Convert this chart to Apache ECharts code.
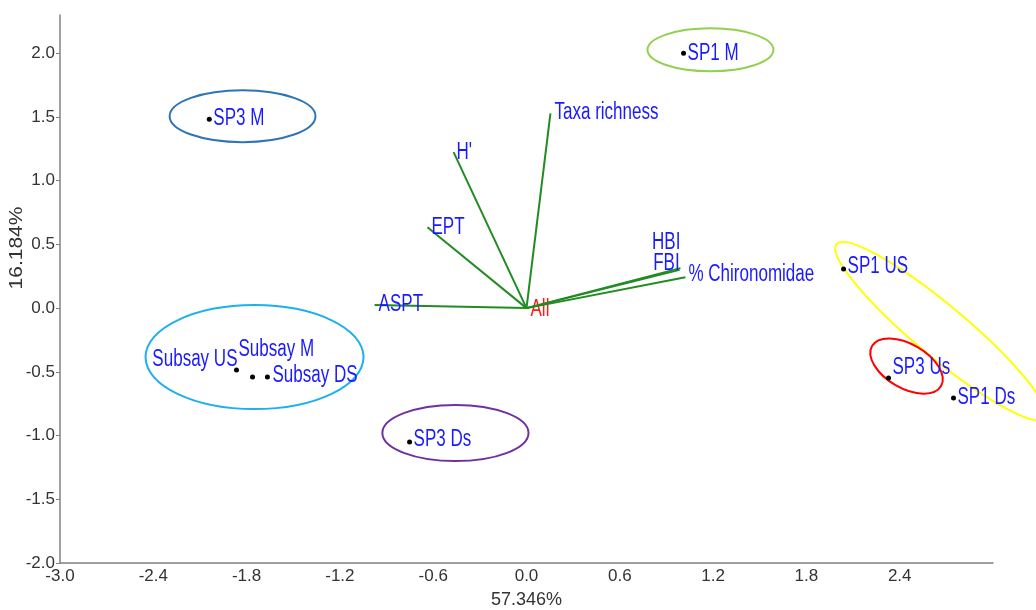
<!DOCTYPE html>
<html><head><meta charset="utf-8">
<script src="https://cdn.jsdelivr.net/npm/echarts@6/dist/echarts.min.js"></script>
<style>html,body{margin:0;padding:0;background:#fff}#c{width:1036px;height:610px}</style>
</head><body><div id="c"></div>
<script>
// ---- data ----
const siteNames = ['SP3 M', 'SP1 M', 'Subsay US', 'Subsay M', 'Subsay DS', 'SP3 Ds', 'SP1 US', 'SP3 Us', 'SP1 Ds'];
const siteX = [-2.040, 1.010, -1.865, -1.762, -1.666, -0.752, 2.039, 2.328, 2.746];
const siteY = [1.482, 2.000, -0.486, -0.541, -0.541, -1.051, 0.306, -0.549, -0.706];

const varNames = ['Taxa richness', "H'", 'EPT', 'ASPT', 'HBI', 'FBI', '% Chironomidae'];
const varX = [0.154, -0.469, -0.637, -0.977, 0.990, 0.985, 1.022];
const varY = [1.529, 1.224, 0.635, 0.024, 0.314, 0.300, 0.243];
const originLabel = 'All';

const xTicks = [-3.0, -2.4, -1.8, -1.2, -0.6, 0.0, 0.6, 1.2, 1.8, 2.4];
const yTicks = [-2.0, -1.5, -1.0, -0.5, 0.0, 0.5, 1.0, 1.5, 2.0];
const xTitle = '57.346%';
const yTitle = '16.184%';

// group ellipses: centre, end of major axis (data units), minor/major ratio
const ellCX = [-1.826, 1.183, -1.749, -0.457, 2.662, 2.444];
const ellCY = [1.506, 2.027, -0.384, -0.980, -0.180, -0.455];
const ellAX = [-1.357, 1.588, -1.048, 0.013, 3.330, 2.666];
const ellAY = [1.506, 2.027, -0.384, -0.980, -0.861, -0.612];
const ellRatio = [0.356, 0.341, 0.477, 0.384, 0.19, 0.55];

// ---- styles ----
const ellColors = ['#2e75b6', '#92d050', '#1cb0ec', '#7030a0', '#ffff00', '#ff0000'];
const LABEL_FONT = "'Liberation Sans', Arial, sans-serif";
const LABEL_SIZE = 23;
const LABEL_SCALE_X = 0.74;
const BLUE = '#1a1aff';
const siteLabelStyle = {
  'SP3 M': { dx: 4, dy: -1 },
  'SP1 M': { dx: 4, dy: 0 },
  'Subsay US': { dx: 1, dy: -10, align: 'right' },
  'Subsay M': { dx: -14, dy: -27 },
  'Subsay DS': { dx: 5, dy: -1 },
  'SP3 Ds': { dx: 4, dy: -2 },
  'SP1 US': { dx: 4, dy: -2 },
  'SP3 Us': { dx: 4, dy: -10 },
  'SP1 Ds': { dx: 4, dy: 0 }
};
const varLabelStyle = {
  'Taxa richness': { dx: 4, dy: -1 },
  "H'": { dx: 3, dy: 1 },
  'EPT': { dx: 4, dy: 0 },
  'ASPT': { dx: 4, dy: 0 },
  'HBI': { dx: 0, dy: -25, align: 'right' },
  'FBI': { dx: 0, dy: -6, align: 'right' },
  '% Chironomidae': { dx: 3, dy: -2 }
};
const originLabelStyle = { dx: 4, dy: 2 };

function labelText(x, y, text, color, align) {
  return {
    type: 'text', x: x, y: y, scaleX: LABEL_SCALE_X, scaleY: 1,
    style: { text: text, fill: color, fontSize: LABEL_SIZE, fontFamily: LABEL_FONT,
             align: align || 'left', verticalAlign: 'middle' }
  };
}

const chart = echarts.init(document.getElementById('c'), null, { renderer: 'canvas' });

const siteData = siteNames.map((n, i) => [siteX[i], siteY[i]]);
const varData = varNames.map((n, i) => [varX[i], varY[i]]);
const ellData = ellCX.map((c, i) => [c, ellCY[i], ellAX[i], ellAY[i], ellRatio[i]]);

const TICK_FONT = "'Liberation Sans', Arial, sans-serif";

chart.setOption({
  animation: false,
  backgroundColor: '#fff',
  grid: { left: 60, right: 43, top: 15, bottom: 47, containLabel: false, outerBoundsMode: 'none' },
  xAxis: {
    type: 'value', min: -3, max: 3,
    axisLine: { onZero: false, lineStyle: { color: '#808080', width: 1.5 } },
    axisTick: { show: false },
    splitLine: { show: false },
    axisLabel: {
      customValues: xTicks,
      formatter: v => v.toFixed(1),
      fontSize: 17, color: '#333', margin: 5, fontFamily: TICK_FONT
    },
    name: xTitle, nameLocation: 'middle', nameGap: 28,
    nameTextStyle: { fontSize: 18, color: '#333', fontFamily: TICK_FONT }
  },
  yAxis: {
    type: 'value', min: -2, max: 2.3,
    axisLine: { onZero: false, lineStyle: { color: '#808080', width: 1.5 } },
    axisTick: { show: true, customValues: yTicks, length: 4, lineStyle: { color: '#808080' } },
    splitLine: { show: false },
    axisLabel: {
      customValues: yTicks,
      formatter: v => v.toFixed(1),
      fontSize: 17, color: '#333', margin: 5, fontFamily: TICK_FONT
    }
  },
  graphic: [{
    type: 'text', x: 17, y: 248, rotation: Math.PI / 2, scaleY: 0.85,
    style: { text: yTitle, fill: '#333', fontSize: 21, fontFamily: TICK_FONT, align: 'center', verticalAlign: 'middle' }
  }],
  series: [
    {
      type: 'custom',
      name: 'groups',
      clip: false,
      z: 2,
      data: ellData,
      renderItem: function (params, api) {
        const c = api.coord([api.value(0), api.value(1)]);
        const a = api.coord([api.value(2), api.value(3)]);
        const dx = a[0] - c[0], dy = a[1] - c[1];
        const major = Math.sqrt(dx * dx + dy * dy);
        const minor = major * api.value(4);
        const ang = Math.atan2(dy, dx);
        return {
          type: 'ellipse',
          x: c[0], y: c[1], rotation: -ang,
          shape: { cx: 0, cy: 0, rx: major, ry: minor },
          style: { fill: 'none', stroke: ellColors[params.dataIndex], lineWidth: 2 }
        };
      }
    },
    {
      type: 'custom',
      name: 'vectors',
      clip: false,
      z: 3,
      data: varData,
      renderItem: function (params, api) {
        const i = params.dataIndex;
        const o = api.coord([0, 0]);
        const e = api.coord([api.value(0), api.value(1)]);
        const st = varLabelStyle[varNames[i]];
        const children = [
          { type: 'line', shape: { x1: o[0], y1: o[1], x2: e[0], y2: e[1] },
            style: { stroke: '#228b22', lineWidth: 2 } },
          labelText(e[0] + st.dx, e[1] + st.dy, varNames[i], BLUE, st.align)
        ];
        if (i === 0) {
          children.push(labelText(o[0] + originLabelStyle.dx, o[1] + originLabelStyle.dy, originLabel, '#ff1a1a'));
        }
        return { type: 'group', children: children };
      }
    },
    {
      type: 'scatter',
      name: 'sites',
      z: 5,
      symbol: 'circle',
      symbolSize: 5,
      itemStyle: { color: '#000', opacity: 1 },
      data: siteData
    },
    {
      type: 'custom',
      name: 'siteLabels',
      clip: false,
      z: 4,
      data: siteData,
      renderItem: function (params, api) {
        const i = params.dataIndex;
        const p = api.coord([api.value(0), api.value(1)]);
        const st = siteLabelStyle[siteNames[i]];
        return labelText(p[0] + st.dx, p[1] + st.dy, siteNames[i], BLUE, st.align);
      }
    }
  ]
});
</script>
</body></html>
